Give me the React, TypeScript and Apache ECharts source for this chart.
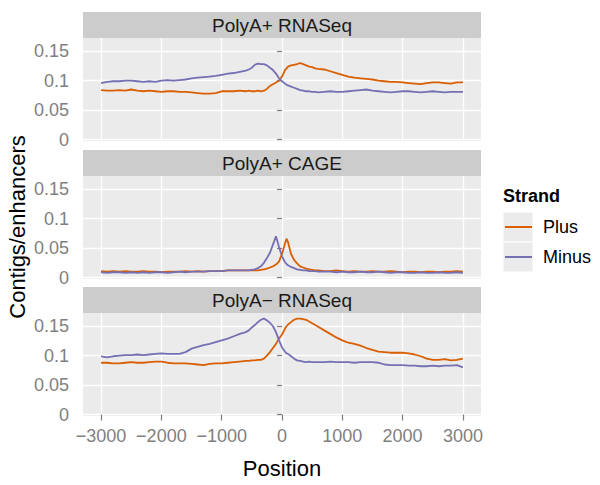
import React, { useEffect, useRef } from 'react';
import * as echarts from 'echarts';

const positions = [
  -3000, -2900, -2800, -2700, -2600, -2500, -2400, -2300, -2200, -2100, -2000, -1900,
  -1800, -1700, -1600, -1500, -1400, -1300, -1200, -1100, -1000, -900, -800, -700,
  -600, -550, -500, -450, -400, -350, -300, -250, -200, -150, -100, -50, 0, 50, 75,
  100, 150, 200, 250, 300, 350, 400, 450, 500, 550, 600,
  700, 800, 900, 1000, 1100, 1200, 1300, 1400, 1500, 1600, 1700, 1800,
  1900, 2000, 2100, 2200, 2300, 2400, 2500, 2600, 2700, 2800, 2900, 3000,
];

const panelNames = ['PolyA+ RNASeq', 'PolyA+ CAGE', 'PolyA\u2212 RNASeq'];
const strandNames = ['Plus', 'Minus'];
const strandColors = ['#D95F02', '#7570B3'];

// PolyA+ RNASeq
const rnaPlusPlus = [
  0.084, 0.083, 0.083, 0.084, 0.083, 0.085, 0.083, 0.082, 0.083, 0.082, 0.081, 0.082,
  0.082, 0.081, 0.081, 0.080, 0.079, 0.078, 0.078, 0.079, 0.082, 0.082, 0.082, 0.083,
  0.082, 0.083, 0.082, 0.082, 0.083, 0.082, 0.083, 0.086, 0.091, 0.094, 0.097, 0.100, 0.107,
  0.118, 0.121, 0.124, 0.126, 0.127, 0.128, 0.130, 0.128, 0.126, 0.124, 0.123, 0.121, 0.120,
  0.119, 0.116, 0.113, 0.110, 0.107, 0.105, 0.104, 0.103, 0.102, 0.100, 0.099, 0.098,
  0.098, 0.097, 0.096, 0.095, 0.094, 0.096, 0.097, 0.097, 0.096, 0.095, 0.097, 0.097,
];
const rnaPlusMinus = [
  0.096, 0.098, 0.099, 0.099, 0.100, 0.100, 0.099, 0.098, 0.099, 0.098, 0.100, 0.101,
  0.100, 0.101, 0.102, 0.104, 0.105, 0.106, 0.107, 0.108, 0.110, 0.112, 0.113, 0.115,
  0.117, 0.119, 0.122, 0.127, 0.129, 0.128, 0.128, 0.126, 0.122, 0.118, 0.112, 0.104, 0.099,
  0.095, 0.093, 0.092, 0.090, 0.088, 0.086, 0.084, 0.083, 0.082, 0.082, 0.081, 0.081, 0.080,
  0.081, 0.082, 0.081, 0.081, 0.082, 0.083, 0.084, 0.085, 0.083, 0.082, 0.081, 0.080,
  0.081, 0.082, 0.082, 0.081, 0.080, 0.081, 0.082, 0.081, 0.080, 0.081, 0.081, 0.081,
];

// PolyA+ CAGE
const cagePlus = [
  0.011, 0.010, 0.011, 0.010, 0.011, 0.010, 0.010, 0.011, 0.010, 0.010, 0.009, 0.010,
  0.010, 0.010, 0.011, 0.010, 0.011, 0.010, 0.011, 0.011, 0.011, 0.012, 0.012, 0.012,
  0.012, 0.012, 0.012, 0.012, 0.012, 0.013, 0.014, 0.015, 0.017, 0.019, 0.022, 0.027, 0.040,
  0.058, 0.066, 0.060, 0.040, 0.030, 0.024, 0.019, 0.017, 0.015, 0.014, 0.013, 0.012, 0.012,
  0.011, 0.011, 0.012, 0.011, 0.010, 0.011, 0.010, 0.010, 0.011, 0.010, 0.010, 0.011,
  0.010, 0.009, 0.010, 0.010, 0.009, 0.010, 0.010, 0.009, 0.010, 0.010, 0.011, 0.010,
];
const cageMinus = [
  0.009, 0.008, 0.009, 0.009, 0.008, 0.009, 0.008, 0.009, 0.008, 0.009, 0.009, 0.008,
  0.009, 0.010, 0.009, 0.010, 0.010, 0.010, 0.011, 0.011, 0.011, 0.012, 0.012, 0.012,
  0.012, 0.012, 0.013, 0.014, 0.016, 0.019, 0.025, 0.033, 0.042, 0.056, 0.070, 0.052, 0.036,
  0.026, 0.023, 0.021, 0.018, 0.016, 0.014, 0.013, 0.012, 0.012, 0.011, 0.011, 0.011, 0.010,
  0.010, 0.010, 0.009, 0.010, 0.009, 0.009, 0.010, 0.009, 0.009, 0.010, 0.009, 0.008,
  0.009, 0.009, 0.008, 0.008, 0.009, 0.008, 0.008, 0.009, 0.008, 0.008, 0.009, 0.008,
];

// PolyA- RNASeq
const rnaMinusPlus = [
  0.088, 0.088, 0.087, 0.087, 0.088, 0.089, 0.088, 0.088, 0.089, 0.090, 0.090, 0.088,
  0.087, 0.087, 0.087, 0.086, 0.085, 0.084, 0.086, 0.087, 0.087, 0.088, 0.089, 0.090,
  0.091, 0.091, 0.092, 0.092, 0.093, 0.093, 0.095, 0.100, 0.106, 0.113, 0.120, 0.129, 0.136,
  0.146, 0.150, 0.153, 0.157, 0.161, 0.163, 0.163, 0.162, 0.161, 0.158, 0.155, 0.152, 0.149,
  0.143, 0.137, 0.131, 0.126, 0.122, 0.120, 0.117, 0.113, 0.110, 0.107, 0.106, 0.105,
  0.105, 0.105, 0.104, 0.102, 0.099, 0.095, 0.093, 0.093, 0.094, 0.092, 0.093, 0.095,
];
const rnaMinusMinus = [
  0.099, 0.097, 0.099, 0.100, 0.101, 0.101, 0.102, 0.101, 0.102, 0.103, 0.104, 0.103,
  0.103, 0.103, 0.106, 0.112, 0.115, 0.118, 0.120, 0.123, 0.126, 0.129, 0.133, 0.137,
  0.140, 0.143, 0.148, 0.152, 0.157, 0.161, 0.163, 0.160, 0.156, 0.150, 0.140, 0.126, 0.114,
  0.107, 0.104, 0.103, 0.099, 0.095, 0.092, 0.091, 0.090, 0.089, 0.090, 0.089, 0.089, 0.089,
  0.089, 0.090, 0.089, 0.089, 0.089, 0.088, 0.089, 0.089, 0.089, 0.088, 0.085, 0.084,
  0.084, 0.084, 0.083, 0.083, 0.082, 0.082, 0.083, 0.082, 0.083, 0.083, 0.084, 0.080,
];

const panelSeries = [
  [rnaPlusPlus, rnaPlusMinus],
  [cagePlus, cageMinus],
  [rnaMinusPlus, rnaMinusMinus],
];

const xTicks = [-3000, -2000, -1000, 0, 1000, 2000, 3000];
const yTicks = [0, 0.05, 0.1, 0.15];

const FONT = 'Liberation Sans, Arial, Helvetica, sans-serif';
const PANEL_BG = '#EBEBEB';
const STRIP_BG = '#CCCCCC';
const AXIS_GREY = '#7F7F7F';
const LEFT = 83;
const WIDTH = 398;
const HEIGHT = 103;
const STRIP_H = 26;
const TOPS = [38, 176, 313];

export default function App() {
  const ref = useRef<HTMLDivElement>(null);

  useEffect(() => {
    if (!ref.current) return;
    const chart = echarts.init(ref.current, null, { renderer: 'svg' });

    const grids = TOPS.map((top) => ({
      left: LEFT,
      top,
      width: WIDTH,
      height: HEIGHT,
      show: true,
      backgroundColor: PANEL_BG,
      borderWidth: 0,
      containLabel: false,
      outerBoundsMode: 'none',
    }));

    const xAxes = TOPS.map((_, i) => ({
      type: 'value',
      gridIndex: i,
      min: -3300,
      max: 3300,
      axisLine: { show: false },
      axisTick: {
        show: i === 2,
        customValues: xTicks,
        length: 6,
        lineStyle: { color: AXIS_GREY, width: 1.2 },
      },
      axisLabel: {
        show: i === 2,
        customValues: xTicks,
        margin: 11,
        fontSize: 18,
        color: AXIS_GREY,
        fontFamily: FONT,
        formatter: (v: number) => (v < 0 ? '\u2212' + Math.abs(v) : String(v)),
      },
      splitLine: { show: true, lineStyle: { color: '#FFFFFF', width: 1.3 } },
    }));

    const yAxes = TOPS.map((_, i) => ({
      type: 'value',
      gridIndex: i,
      min: -0.0025,
      max: 0.1725,
      axisLine: { show: false },
      axisTick: {
        show: true,
        customValues: yTicks,
        length: 5,
        lineStyle: { color: AXIS_GREY, width: 1.2 },
      },
      axisLabel: {
        show: true,
        customValues: yTicks,
        margin: 14,
        fontSize: 18,
        color: AXIS_GREY,
        fontFamily: FONT,
        formatter: (v: number) => String(v),
      },
      splitLine: { show: true, lineStyle: { color: '#FFFFFF', width: 1.3 } },
    }));

    const series: any[] = [];
    panelSeries.forEach((pair, i) => {
      pair.forEach((vals, s) => {
        series.push({
          type: 'line',
          name: strandNames[s],
          xAxisIndex: i,
          yAxisIndex: i,
          data: positions.map((p, k) => [p, vals[k]]),
          showSymbol: false,
          symbol: 'none',
          color: strandColors[s],
          lineStyle: { color: strandColors[s], width: 1.8 },
          z: 2 + s,
        });
      });
    });

    const graphics: any[] = [];
    TOPS.forEach((top, i) => {
      graphics.push({
        type: 'rect',
        shape: { x: LEFT, y: top - STRIP_H, width: WIDTH, height: STRIP_H },
        style: { fill: STRIP_BG },
      });
      graphics.push({
        type: 'text',
        x: LEFT + WIDTH / 2,
        y: top - STRIP_H / 2,
        style: {
          text: panelNames[i],
          fontSize: 19,
          fontFamily: FONT,
          fill: '#1A1A1A',
          align: 'center',
          verticalAlign: 'middle',
        },
      });
    });
    graphics.push({
      type: 'text',
      x: 17,
      y: 227,
      rotation: Math.PI / 2,
      style: {
        text: 'Contigs/enhancers',
        fontSize: 22,
        fontFamily: FONT,
        fill: '#000000',
        align: 'center',
        verticalAlign: 'middle',
      },
    });
    graphics.push({
      type: 'text',
      x: LEFT + WIDTH / 2,
      y: 468,
      style: {
        text: 'Position',
        fontSize: 22,
        fontFamily: FONT,
        fill: '#000000',
        align: 'center',
        verticalAlign: 'middle',
      },
    });
    graphics.push({
      type: 'text',
      x: 503,
      y: 196,
      style: {
        text: 'Strand',
        fontSize: 18,
        fontWeight: 'bold',
        fontFamily: FONT,
        fill: '#000000',
        align: 'left',
        verticalAlign: 'middle',
      },
    });
    [212, 242].forEach((y) => {
      graphics.push({
        type: 'rect',
        shape: { x: 503, y, width: 30, height: 30 },
        style: { fill: PANEL_BG, stroke: '#FFFFFF', lineWidth: 1 },
        z: -1,
      });
    });

    chart.setOption({
      animation: false,
      backgroundColor: '#FFFFFF',
      textStyle: { fontFamily: FONT },
      grid: grids,
      xAxis: xAxes,
      yAxis: yAxes,
      series,
      legend: {
        data: strandNames,
        orient: 'vertical',
        left: 505,
        top: 212,
        padding: 0,
        itemWidth: 27,
        itemHeight: 2,
        itemGap: 0,
        icon: 'rect',
        selectedMode: false,
        textStyle: {
          fontSize: 18,
          color: '#000000',
          fontFamily: FONT,
          lineHeight: 30,
          padding: [0, 0, 0, 6],
        },
      },
      graphic: graphics,
    });

    return () => chart.dispose();
  }, []);

  return (
    <div
      ref={ref}
      style={{ position: 'absolute', left: 0, top: 0, width: 600, height: 485 }}
    />
  );
}
